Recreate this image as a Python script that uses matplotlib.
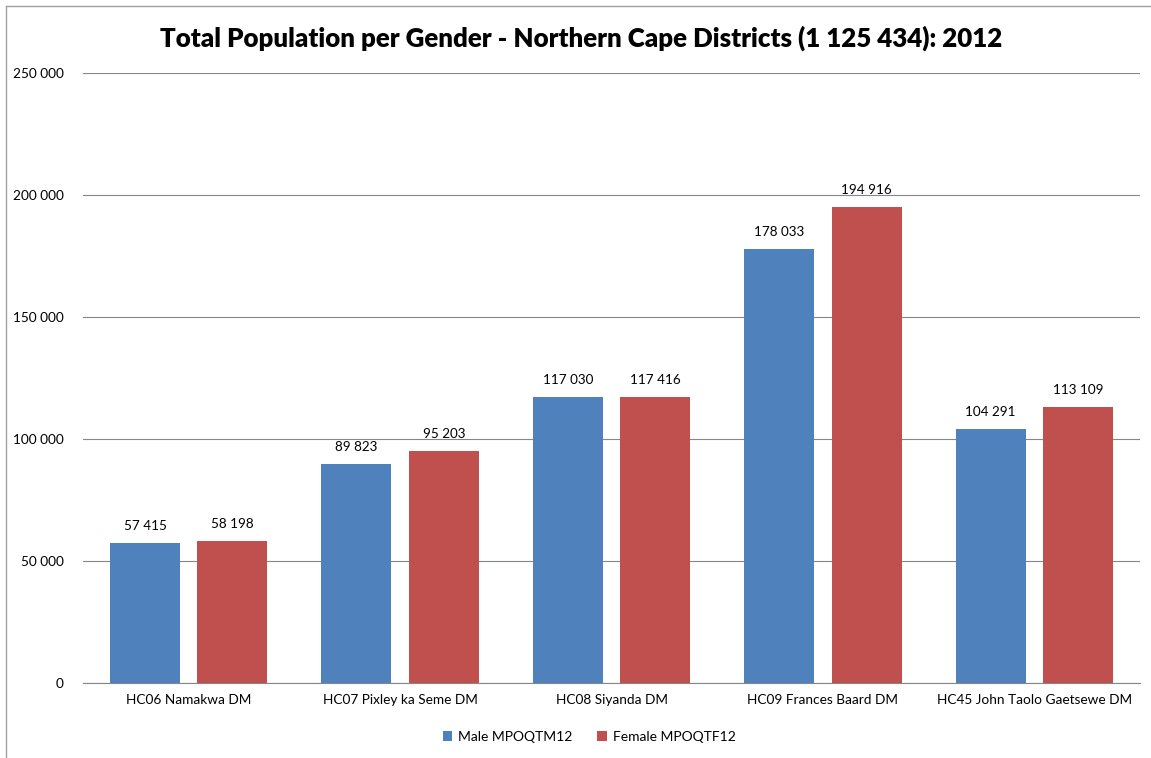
import numpy as np
import matplotlib.pyplot as plt
from matplotlib.ticker import FuncFormatter, MultipleLocator
from matplotlib.lines import Line2D

districts = ["HC06 Namakwa DM", "HC07 Pixley ka Seme DM", "HC08 Siyanda DM",
             "HC09 Frances Baard DM", "HC45 John Taolo Gaetsewe DM"]
male = [57415, 89823, 117030, 178033, 104291]
female = [58198, 95203, 117416, 194916, 113109]
series_names = ["Male MPOQTM12", "Female MPOQTF12"]
title = "Total Population per Gender - Northern Cape Districts (1 125 434): 2012"

plt.rcParams['font.family'] = ['Lato', 'DejaVu Sans']

def spaced(v, pos=None):
    return f"{int(v):,}".replace(",", " ")

fig = plt.figure(figsize=(11.51, 7.58), dpi=100)
ax = fig.add_axes([83/1151, 1 - 683/758, (1140-83)/1151, (683-73)/758])

x = np.arange(len(districts))
w = 0.331
off = 0.207
b1 = ax.bar(x - off, male, w, color="#4F81BD", label=series_names[0], zorder=3)
b2 = ax.bar(x + off, female, w, color="#C0504D", label=series_names[1], zorder=3)

for bars in (b1, b2):
    for r in bars:
        ax.text(r.get_x() + r.get_width()/2, r.get_height() + 4500, spaced(r.get_height()),
                ha="center", va="bottom", fontsize=9.7)

ax.set_xlim(-0.5, len(districts) - 0.5)
ax.set_ylim(0, 250000)
ax.yaxis.set_major_locator(MultipleLocator(50000))
ax.yaxis.set_major_formatter(FuncFormatter(spaced))
ax.set_xticks(x)
ax.set_xticklabels(districts, fontsize=9.8)
ax.tick_params(axis="y", length=0, pad=14, labelsize=9.8)
ax.tick_params(axis="x", length=0, pad=8)
ax.grid(axis="y", color="#868686", linewidth=0.8, zorder=0)
for s in ("left", "right", "top"):
    ax.spines[s].set_visible(False)
ax.spines["bottom"].set_color("#868686")

fig.text(581/1151, 1 - 38/758, title, ha="center", va="center", fontsize=18.6, fontweight="heavy")

fig.legend(handles=[b1, b2], loc="center", bbox_to_anchor=(589/1151, 1 - 737/758), ncol=2,
           frameon=False, fontsize=10, handlelength=0.7, handleheight=0.7, columnspacing=1.8,
           handletextpad=0.4)

# chart border (left and top edges visible in the crop)
fig.add_artist(Line2D([6/1151, 6/1151], [0, 1 - 6/758], color="#A0A0A0", linewidth=1,
                      transform=fig.transFigure))
fig.add_artist(Line2D([6/1151, 1], [1 - 6/758, 1 - 6/758], color="#A0A0A0", linewidth=1,
                      transform=fig.transFigure))

fig.savefig("out.png", dpi=100)
